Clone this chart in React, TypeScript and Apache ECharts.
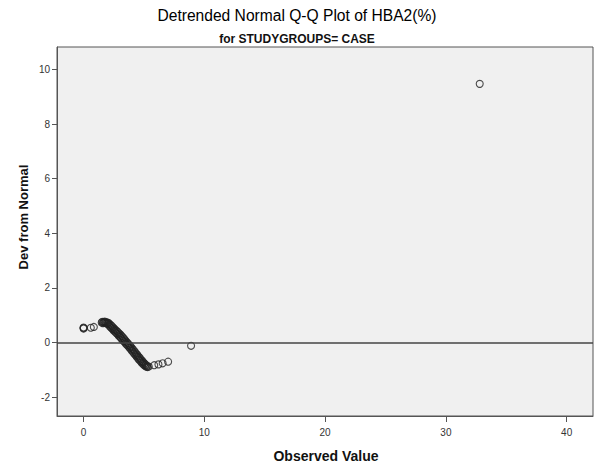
import React, { useEffect, useRef } from "react";
import * as echarts from "echarts";

const titleText = "Detrended Normal Q-Q Plot of HBA2(%)";
const subtitleText = "for STUDYGROUPS= CASE";
const xAxisName = "Observed Value";
const yAxisName = "Dev from Normal";

const xTicks = [0, 10, 20, 30, 40];
const yTicks = [-2, 0, 2, 4, 6, 8, 10];

// [observed value, deviation from normal]
const lowCluster = [
  [0, 0.53], [0, 0.55], [0, 0.51], [0.6, 0.54], [0.85, 0.57],
];
const denseBand = [
  [1.5, 0.73], [1.55, 0.76], [1.6, 0.71], [1.65, 0.75], [1.7, 0.73], [1.75, 0.77],
  [1.8, 0.72], [1.85, 0.75], [1.9, 0.7], [1.95, 0.73], [2.0, 0.68], [2.05, 0.72],
  [2.1, 0.63], [2.15, 0.68], [2.2, 0.58], [2.25, 0.64], [2.3, 0.53], [2.35, 0.6],
  [2.4, 0.49], [2.45, 0.55], [2.5, 0.44], [2.55, 0.5], [2.6, 0.4], [2.65, 0.46],
  [2.7, 0.35], [2.75, 0.42], [2.8, 0.31], [2.85, 0.38], [2.9, 0.26], [2.95, 0.33],
  [3.0, 0.21], [3.05, 0.29], [3.1, 0.16], [3.15, 0.24], [3.2, 0.11], [3.25, 0.19],
  [3.3, 0.06], [3.35, 0.14], [3.4, 0.01], [3.45, 0.08], [3.5, -0.04], [3.55, 0.03],
  [3.6, -0.09], [3.65, -0.02], [3.7, -0.14], [3.75, -0.07], [3.8, -0.19], [3.85, -0.12],
  [3.9, -0.25], [3.95, -0.17], [4.0, -0.3], [4.05, -0.23], [4.1, -0.36], [4.15, -0.28],
  [4.2, -0.41], [4.25, -0.34], [4.3, -0.47], [4.35, -0.4], [4.4, -0.52], [4.45, -0.45],
  [4.5, -0.58], [4.55, -0.51], [4.6, -0.63], [4.65, -0.56], [4.7, -0.68], [4.75, -0.62],
  [4.8, -0.73], [4.85, -0.67], [4.9, -0.78], [4.95, -0.72], [5.0, -0.82], [5.05, -0.77],
  [5.1, -0.86], [5.15, -0.81], [5.2, -0.89], [5.25, -0.85], [5.3, -0.9], [5.4, -0.88],
];
const upperTail = [
  [5.85, -0.83], [6.2, -0.8], [6.55, -0.76], [7.0, -0.7], [8.9, -0.12], [32.8, 9.47],
];

export default function App() {
  const ref = useRef<HTMLDivElement>(null);

  useEffect(() => {
    if (!ref.current) return;
    const chart = echarts.init(ref.current, undefined, { renderer: "svg" });
    const points = [...lowCluster, ...denseBand, ...upperTail];
    const axisColor = "#555555";
    const labelStyle = {
      color: "#333333",
      fontFamily: "Liberation Sans, Arial, sans-serif",
      fontSize: 10,
    };
    chart.setOption({
      animation: false,
      backgroundColor: "#ffffff",
      title: [
        {
          text: titleText,
          left: "center",
          top: 2,
          textStyle: {
            fontFamily: "Liberation Sans, Arial, sans-serif",
            fontSize: 15.6,
            fontWeight: "normal",
            color: "#000000",
          },
        },
        {
          text: subtitleText,
          left: "center",
          top: 28,
          textStyle: {
            fontFamily: "Liberation Sans, Arial, sans-serif",
            fontSize: 12,
            fontWeight: "bold",
            color: "#111111",
          },
        },
      ],
      grid: {
        left: 57,
        top: 47,
        width: 536,
        height: 369,
        show: true,
        backgroundColor: "#F0F0F0",
        borderColor: axisColor,
        borderWidth: 1,
        containLabel: false,
        outerBoundsMode: "none",
      },
      xAxis: {
        type: "value",
        min: -2.2,
        max: 42.18,
        axisLine: { show: true, onZero: false, lineStyle: { color: axisColor, width: 1 } },
        axisTick: {
          show: true,
          length: 6,
          customValues: xTicks,
          lineStyle: { color: axisColor, width: 1 },
        },
        axisLabel: { ...labelStyle, margin: 11, customValues: xTicks },
        splitLine: { show: false },
      },
      yAxis: {
        type: "value",
        min: -2.69,
        max: 10.82,
        axisLine: { show: true, onZero: false, lineStyle: { color: axisColor, width: 1 } },
        axisTick: {
          show: true,
          length: 5,
          customValues: yTicks,
          lineStyle: { color: axisColor, width: 1 },
        },
        axisLabel: { ...labelStyle, margin: 7, customValues: yTicks },
        splitLine: { show: false },
      },
      graphic: [
        {
          type: "text",
          x: 326,
          y: 456,
          style: {
            text: xAxisName,
            font: "bold 14px 'Liberation Sans', Arial, sans-serif",
            fill: "#111111",
            textAlign: "center",
            textVerticalAlign: "middle",
          },
        },
        {
          type: "text",
          x: 23,
          y: 217,
          rotation: Math.PI / 2,
          style: {
            text: yAxisName,
            font: "bold 13px 'Liberation Sans', Arial, sans-serif",
            fill: "#111111",
            textAlign: "center",
            textVerticalAlign: "middle",
          },
        },
      ],
      series: [
        {
          type: "scatter",
          data: points,
          symbol: "circle",
          symbolSize: 7,
          itemStyle: {
            color: "rgba(0,0,0,0)",
            borderColor: "#222222",
            borderWidth: 1.1,
          },
          markLine: {
            silent: true,
            symbol: ["none", "none"],
            label: { show: false },
            lineStyle: { color: "#444444", width: 1.5, type: "solid" },
            data: [{ yAxis: 0 }],
          },
        },
      ],
    });
    return () => chart.dispose();
  }, []);

  return (
    <div
      ref={ref}
      style={{ position: "fixed", left: 0, top: 0, width: 594, height: 463 }}
    />
  );
}
